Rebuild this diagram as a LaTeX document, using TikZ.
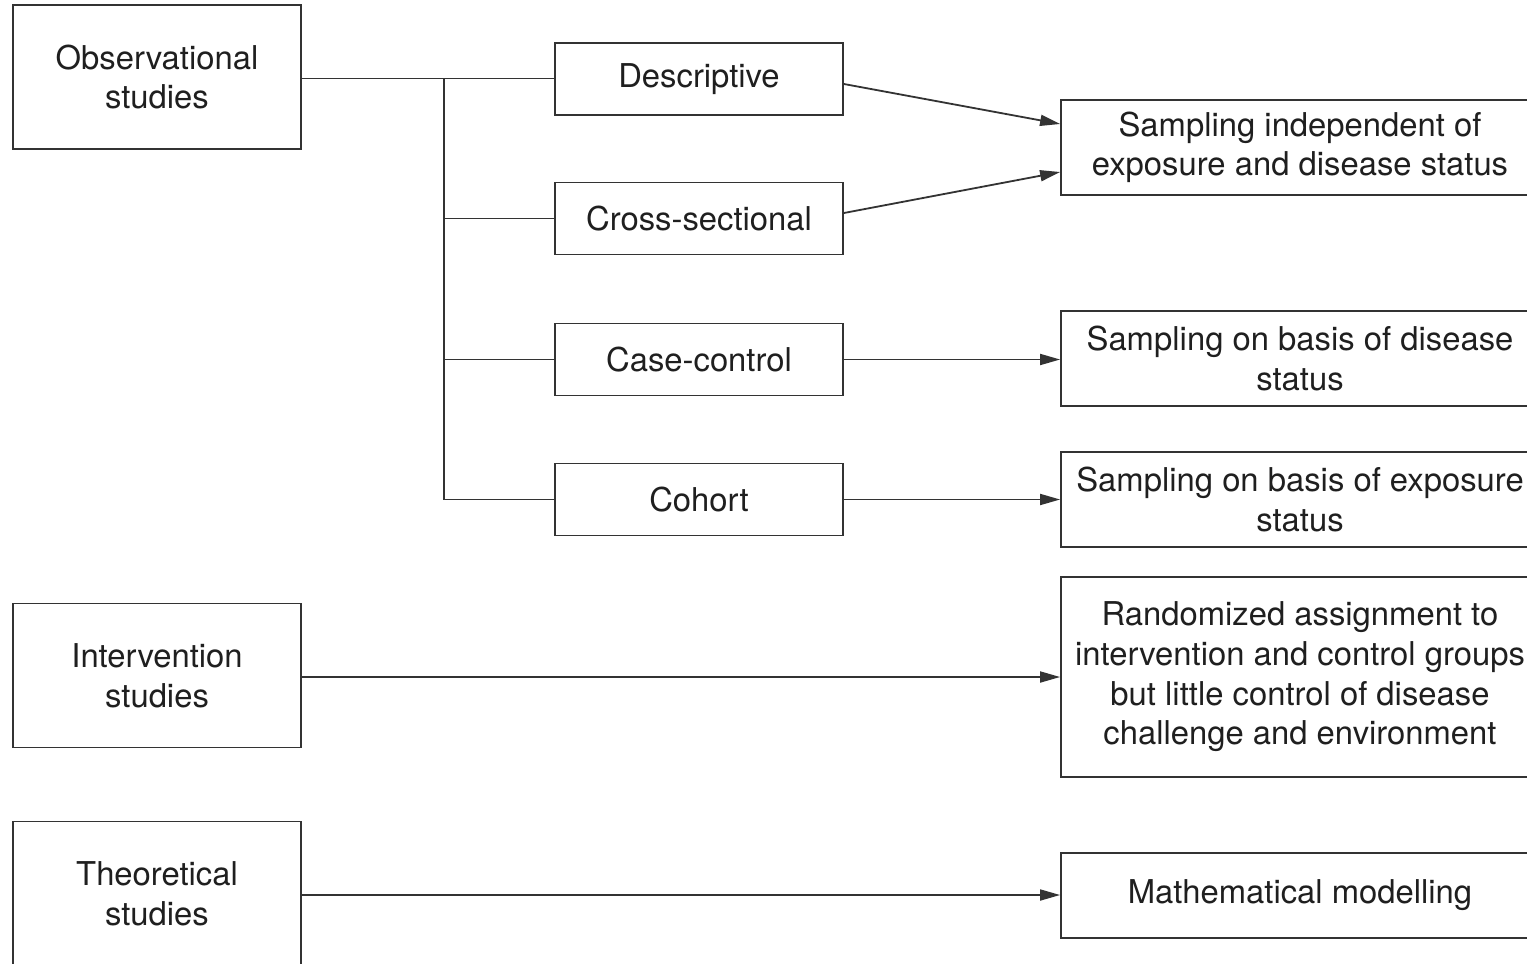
\documentclass[tikz,border=0pt]{standalone}
\usepackage{fontspec}
\setmainfont{TeX Gyre Heros}
\usepackage{xcolor}
\usepackage{tikz}
\usetikzlibrary{arrows.meta}

\definecolor{lineclr}{HTML}{333333}

\begin{document}
\begin{tikzpicture}[x=0.5pt, y=-0.5pt,
    box/.style={draw=lineclr, line width=0.9pt, fill=white, align=center,
                inner sep=0pt, font=\fontsize{16.4}{19.8}\selectfont, text=black!88},
    studybox/.style={box, minimum width=144pt, minimum height=72pt},
    designbox/.style={box, minimum width=144pt, minimum height=36pt},
    samplebox/.style={box, minimum width=239pt, minimum height=47.5pt},
    link/.style={draw=lineclr, line width=0.9pt},
    arr/.style={link, -{Triangle[length=10pt, width=5.5pt]}}]

  %% Page frame (right and bottom boxes run off the edge)
  \useasboundingbox (0,0) rectangle (1527,964);
  \clip (0,0) rectangle (1527,964);

  %% Study types (left column)
  \node[studybox] (obs)    at (157,77)    {Observational\\studies};
  \node[studybox] (interv) at (157,675.5) {Intervention\\studies};
  \node[studybox, minimum height=72.5pt] (theor) at (157,894) {Theoretical\\studies};

  %% Observational designs (middle column)
  \node[designbox] (desc)    at (699,79)    {Descriptive};
  \node[designbox] (cross)   at (699,218.5) {Cross-sectional};
  \node[designbox] (casectl) at (699,359.5) {Case-control};
  \node[designbox] (cohort)  at (699,499.5) {Cohort};

  %% Sampling schemes (right column)
  \node[samplebox] (indep)    at (1300,147.5) {Sampling independent of\\exposure and disease status};
  \node[samplebox] (disbasis) at (1300,358.5) {Sampling on basis of disease\\status};
  \node[samplebox] (expbasis) at (1300,499.5) {Sampling on basis of exposure\\status};
  \node[samplebox, minimum height=100pt] (random) at (1300,677)
    {Randomized assignment to\\intervention and control groups\\but little control of disease\\challenge and environment};
  \node[samplebox, minimum height=42.5pt] (mathmod) at (1300,895.5) {Mathematical modelling};

  %% Tree from observational studies
  \coordinate (trunktop) at (444,78.5);
  \coordinate (trunkbot) at (444,499.5);
  \draw[link] (obs.east |- trunktop) -- (desc.west |- trunktop);
  \draw[link] (trunktop) -- (trunkbot) -- (cohort.west);
  \draw[link] (444,218.5) -- (cross.west);
  \draw[link] (444,359.5) -- (casectl.west);

  %% Arrows to sampling schemes
  \draw[arr] (desc.east |- 0,84) -- (indep.west |- 0,124);
  \draw[arr] (cross.east |- 0,213) -- (indep.west |- 0,172);
  \draw[arr] (casectl.east) -- (disbasis.west |- casectl.east);
  \draw[arr] (cohort.east) -- (expbasis.west);
  \draw[arr] (interv.east |- 0,677) -- (random.west |- 0,677);
  \draw[arr] (theor.east |- 0,895) -- (mathmod.west |- 0,895);
\end{tikzpicture}
\end{document}
